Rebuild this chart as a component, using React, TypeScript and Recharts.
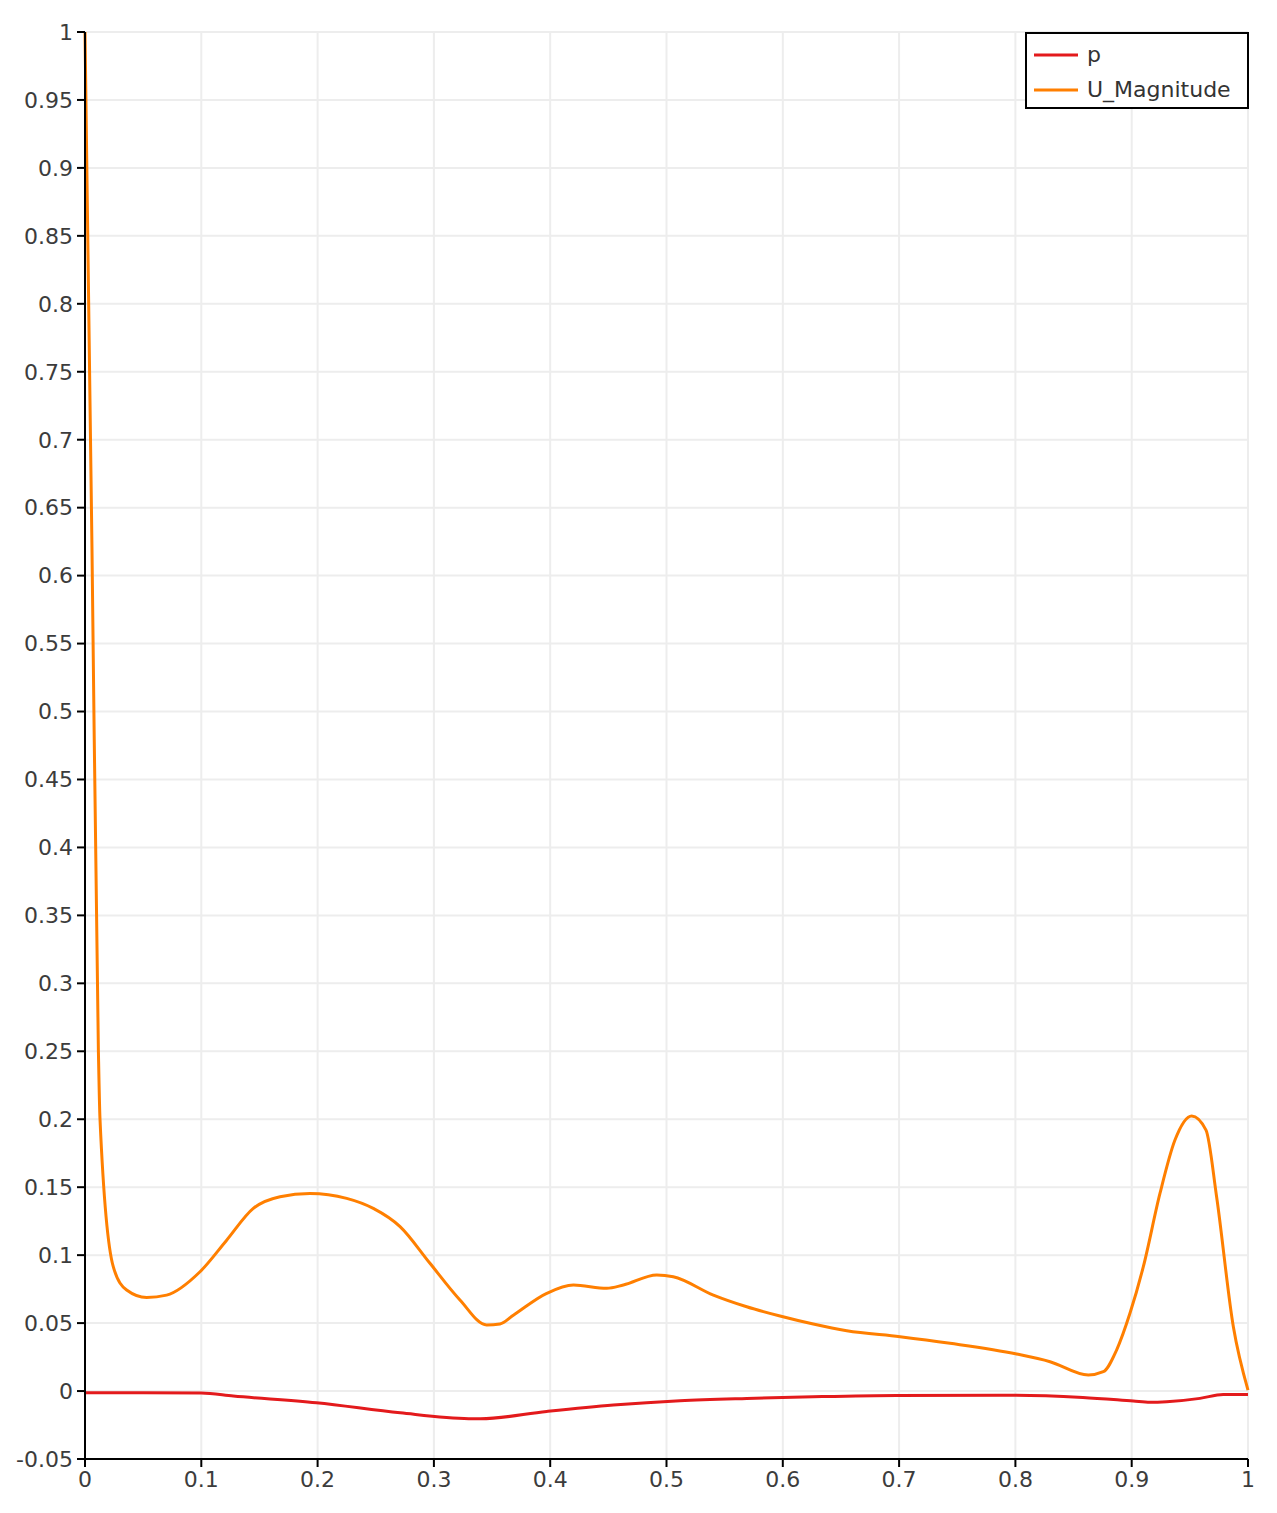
import { CartesianGrid, Line, LineChart, XAxis, YAxis } from "recharts";

// sample positions along the line (arc fraction)
const uX = [
  0, 0.006, 0.0115, 0.0129, 0.0243, 0.0358, 0.053, 0.0702, 0.0989, 0.1218, 0.1447, 0.1677, 0.1935,
  0.225, 0.2479, 0.2709, 0.2966, 0.3224, 0.3454, 0.3568, 0.3683, 0.397, 0.42, 0.4486, 0.4629, 0.4916,
  0.5058, 0.5403, 0.569, 0.5976, 0.6262, 0.655, 0.7008, 0.7438, 0.8011, 0.8298, 0.8627, 0.8756, 0.887,
  0.8985, 0.91, 0.9243, 0.9372, 0.9516, 0.9639, 0.973, 0.9874, 1,
];
const uMag = [
  1, 0.62, 0.251, 0.2, 0.0915, 0.0743, 0.0688, 0.0706, 0.0878, 0.111, 0.1344, 0.143, 0.1454,
  0.1418, 0.1344, 0.121, 0.094, 0.067, 0.0486, 0.0494, 0.0558, 0.0719, 0.078, 0.0756, 0.078, 0.0854,
  0.0841, 0.0706, 0.062, 0.0552, 0.0493, 0.0444, 0.04, 0.0351, 0.0272, 0.0216, 0.0118, 0.0142, 0.0302,
  0.0572, 0.0915, 0.1454, 0.1847, 0.2024, 0.192, 0.143, 0.0473, 0.0007,
];

const pX = [
  0, 0.05, 0.1, 0.1275, 0.199, 0.271, 0.33, 0.34, 0.397, 0.4543, 0.5116, 0.569, 0.626, 0.698, 0.8,
  0.858, 0.9014, 0.9157, 0.93, 0.9587, 0.9787, 1,
];
const pVal = [
  -0.0012, -0.0012, -0.0015, -0.0037, -0.0086, -0.016, -0.0203, -0.0204, -0.015, -0.0103, -0.0071,
  -0.0054, -0.0042, -0.0032, -0.003, -0.0047, -0.0074, -0.0083, -0.0079, -0.0054, -0.0025, -0.0025,
];

const xTicks = [0, 0.1, 0.2, 0.3, 0.4, 0.5, 0.6, 0.7, 0.8, 0.9, 1];
const yTicks = [
  -0.05, 0, 0.05, 0.1, 0.15, 0.2, 0.25, 0.3, 0.35, 0.4, 0.45, 0.5, 0.55, 0.6, 0.65, 0.7, 0.75, 0.8,
  0.85, 0.9, 0.95, 1,
];

const seriesNames = ["p", "U_Magnitude"];
const seriesColors = ["#e31a1c", "#ff7f00"];

const uData = uX.map((x, i) => ({ x, v: uMag[i] }));
const pData = pX.map((x, i) => ({ x, v: pVal[i] }));

const tickStyle = { fontFamily: "DejaVu Sans", fontSize: 22, fill: "#3c3c3c" };

function LegendBox() {
  return (
    <div
      style={{
        position: "absolute",
        left: 1025,
        top: 32,
        width: 220,
        height: 73,
        border: "2px solid #000",
        background: "#fff",
        fontFamily: "DejaVu Sans",
        fontSize: 22,
        color: "#333",
      }}
    >
      {seriesNames.map((name, i) => (
        <div key={name} style={{ display: "flex", alignItems: "center", height: 35, marginTop: i === 0 ? 3 : 0 }}>
          <svg width={60} height={10} style={{ flexShrink: 0 }}>
            <line x1={7} x2={51} y1={5} y2={5} stroke={seriesColors[i]} strokeWidth={3} />
          </svg>
          <span>{name}</span>
        </div>
      ))}
    </div>
  );
}

export default function App() {
  return (
    <div style={{ position: "absolute", left: 0, top: 0, width: 1277, height: 1513, background: "#fff" }}>
      <LineChart width={1277} height={1513} margin={{ top: 32, right: 29, bottom: 0, left: 0 }}>
        <CartesianGrid stroke="#ededed" strokeWidth={2} />
        <XAxis
          dataKey="x"
          type="number"
          domain={[0, 1]}
          ticks={xTicks}
          height={54}
          tickSize={8}
          tickMargin={4}
          tick={tickStyle}
          stroke="#000"
          strokeWidth={2}
          allowDuplicatedCategory={false}
        />
        <YAxis
          type="number"
          domain={[-0.05, 1]}
          ticks={yTicks}
          width={85}
          tickSize={8}
          tickMargin={4}
          tick={tickStyle}
          stroke="#000"
          strokeWidth={2}
          interval={0}
        />
        <Line
          data={pData}
          dataKey="v"
          name={seriesNames[0]}
          type="monotone"
          stroke={seriesColors[0]}
          strokeWidth={3}
          dot={false}
          isAnimationActive={false}
        />
        <Line
          data={uData}
          dataKey="v"
          name={seriesNames[1]}
          type="monotone"
          stroke={seriesColors[1]}
          strokeWidth={3}
          dot={false}
          isAnimationActive={false}
        />
      </LineChart>
      <LegendBox />
    </div>
  );
}
